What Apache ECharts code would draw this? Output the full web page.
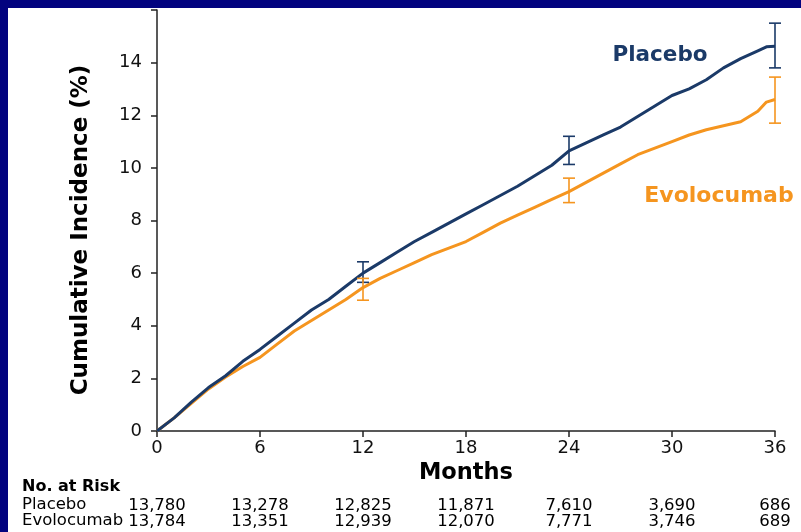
<!DOCTYPE html>
<html>
<head>
<meta charset="utf-8">
<script src="https://cdn.jsdelivr.net/npm/echarts@6/dist/echarts.min.js"></script>
<style>
  html, body { margin: 0; padding: 0; width: 801px; height: 532px; background: #02037f; overflow: hidden; }
  #chart { position: absolute; left: 8px; top: 8px; width: 793px; height: 524px; background: #ffffff; }
</style>
</head>
<body>
<div id="chart"></div>
<script>
// Months at which curves are read
const months = [0,1,2,3,4,5,6,7,8,9,10,11,12,13,14,15,16,17,18,19,20,21,22,23,24,25,26,27,28,29,30,31,32,33,34,35,35.5,36];
const placebo = [0,0.5,1.1,1.65,2.1,2.65,3.1,3.6,4.1,4.6,5.0,5.5,6.0,6.4,6.8,7.2,7.55,7.9,8.25,8.6,8.95,9.3,9.7,10.1,10.65,10.95,11.25,11.55,11.95,12.35,12.75,13.0,13.35,13.8,14.15,14.45,14.6,14.62];
const evolocumab = [0,0.5,1.05,1.6,2.05,2.45,2.8,3.3,3.8,4.2,4.6,5.0,5.45,5.8,6.1,6.4,6.7,6.95,7.2,7.55,7.9,8.2,8.5,8.8,9.1,9.45,9.8,10.15,10.5,10.75,11.0,11.25,11.45,11.6,11.75,12.15,12.5,12.6];
// error bars: [month, low, high]
const placeboCI = [[12,5.65,6.43],[24,10.13,11.2],[36,13.8,15.5]];
const evolocumabCI = [[12,4.97,5.8],[24,8.68,9.61],[36,11.7,13.45]];
// x tick values and numbers at risk
const xTicks = [0,6,12,18,24,30,36];
const riskPlacebo = ['13,780','13,278','12,825','11,871','7,610','3,690','686'];
const riskEvolocumab = ['13,784','13,351','12,939','12,070','7,771','3,746','689'];

const NAVY = '#1b3a68';
const ORANGE = '#f5951f';
const FONT = 'DejaVu Sans';

function pairs(xs, ys) { return xs.map((x, i) => [x, ys[i]]); }

function errRender(color) {
  return function (params, api) {
    const x = api.value(0), lo = api.value(1), hi = api.value(2);
    const a = api.coord([x, lo]), b = api.coord([x, hi]);
    const w = 6;
    const st = { stroke: color, lineWidth: 1.6 };
    return {
      type: 'group',
      children: [
        { type: 'line', shape: { x1: a[0], y1: a[1], x2: b[0], y2: b[1] }, style: st },
        { type: 'line', shape: { x1: a[0] - w, y1: a[1], x2: a[0] + w, y2: a[1] }, style: st },
        { type: 'line', shape: { x1: b[0] - w, y1: b[1], x2: b[0] + w, y2: b[1] }, style: st }
      ]
    };
  };
}

function riskAxis(offset, arr) {
  return {
    type: 'value', gridIndex: 0, min: 0, max: 36, interval: 6, position: 'bottom', offset: offset,
    axisLine: { show: false }, axisTick: { show: false }, splitLine: { show: false },
    axisLabel: {
      margin: 0, fontFamily: FONT, fontSize: 16.5, color: '#000',
      showMinLabel: true, showMaxLabel: true,
      formatter: v => arr[xTicks.indexOf(v)] || ''
    }
  };
}

const chart = echarts.init(document.getElementById('chart'), null, { renderer: 'canvas' });
chart.setOption({
  animation: false,
  backgroundColor: '#ffffff',
  grid: { left: 149, right: 26, top: 2, bottom: 101, containLabel: false },
  xAxis: [
    {
      type: 'value', min: 0, max: 36, interval: 6,
      name: 'Months', nameLocation: 'middle', nameGap: 31,
      nameTextStyle: { fontFamily: FONT, fontWeight: 'bold', fontSize: 22.5, color: '#000' },
      axisLine: { lineStyle: { color: '#222', width: 1.5 } },
      axisTick: { length: 6, lineStyle: { color: '#222', width: 1.5 } },
      splitLine: { show: false },
      axisLabel: { margin: 8, fontFamily: FONT, fontSize: 18, color: '#111', showMinLabel: true, showMaxLabel: true }
    },
    riskAxis(66, riskPlacebo),
    riskAxis(82, riskEvolocumab)
  ],
  yAxis: {
    type: 'value', min: 0, max: 16, interval: 2,
    axisLine: { show: true, lineStyle: { color: '#222', width: 1.5 } },
    axisTick: { show: true, length: 6, lineStyle: { color: '#222', width: 1.5 } },
    splitLine: { show: false },
    axisLabel: { margin: 15, fontFamily: FONT, fontSize: 18, color: '#111', formatter: v => (v === 16 ? '' : String(v)) }
  },
  series: [
    { type: 'line', name: 'Placebo', data: pairs(months, placebo), showSymbol: false, lineStyle: { color: NAVY, width: 3 }, z: 3 },
    { type: 'line', name: 'Evolocumab', data: pairs(months, evolocumab), showSymbol: false, lineStyle: { color: ORANGE, width: 3 }, z: 2 },
    { type: 'custom', name: 'Placebo CI', data: placeboCI, renderItem: errRender(NAVY), encode: { x: 0, y: [1, 2] }, clip: false, z: 4 },
    { type: 'custom', name: 'Evolocumab CI', data: evolocumabCI, renderItem: errRender(ORANGE), encode: { x: 0, y: [1, 2] }, clip: false, z: 4 }
  ],
  graphic: [
    { type: 'text', left: 'auto', x: 73, y: 222, rotation: Math.PI / 2,
      style: { text: 'Cumulative Incidence (%)', fontFamily: FONT, fontWeight: 'bold', fontSize: 23, fill: '#000', align: 'center', verticalAlign: 'middle' } },
    { type: 'text', x: 652, y: 47,
      style: { text: 'Placebo', fontFamily: FONT, fontWeight: 'bold', fontSize: 21.5, fill: NAVY, align: 'center', verticalAlign: 'middle' } },
    { type: 'text', x: 711, y: 188,
      style: { text: 'Evolocumab', fontFamily: FONT, fontWeight: 'bold', fontSize: 22, fill: ORANGE, align: 'center', verticalAlign: 'middle' } },
    { type: 'text', x: 14, y: 479,
      style: { text: 'No. at Risk', fontFamily: FONT, fontWeight: 'bold', fontSize: 16, fill: '#000', align: 'left', verticalAlign: 'middle' } },
    { type: 'text', x: 14, y: 497,
      style: { text: 'Placebo', fontFamily: FONT, fontSize: 16.5, fill: '#000', align: 'left', verticalAlign: 'middle' } },
    { type: 'text', x: 14, y: 513,
      style: { text: 'Evolocumab', fontFamily: FONT, fontSize: 16.5, fill: '#000', align: 'left', verticalAlign: 'middle' } }
  ]
});
</script>
</body>
</html>
